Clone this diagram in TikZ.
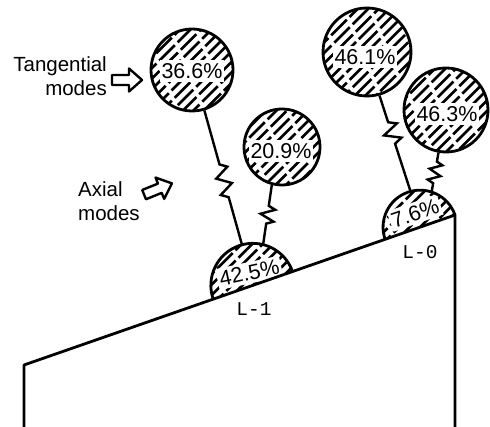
\documentclass[tikz,border=0pt]{standalone}
\usepackage{fontspec}
\setmainfont{Liberation Sans}
\newfontfamily\labmono{Liberation Mono}
\usetikzlibrary{calc,decorations.pathmorphing}
\begin{document}
\begin{tikzpicture}[x=1pt,y=1pt,
  outline/.style={line width=2.8pt, line join=round},
  hatchline/.style={line width=2.6pt, dash pattern=on 22pt off 4pt},
  bubble/.style={circle, draw, line width=2.8pt, inner sep=0pt,
    path picture={\foreach \k in {-84,-73.5,...,84}
      \draw[hatchline, dash phase={\k+100}] ([shift={(\k-60,-60)}]path picture bounding box.center) -- ++(120,120);}},
  pct/.style={fill=white, inner xsep=2pt, inner ysep=3pt, font=\fontsize{21.5}{21.5}\selectfont},
  modetext/.style={inner sep=0pt, font=\fontsize{20.5}{24}\selectfont},
  lab/.style={font=\labmono\fontsize{19.5}{19.5}\selectfont},
  spring/.style={line width=2.4pt, line join=miter, decorate,
    decoration={zigzag, amplitude=7pt, segment length=17pt}},
  barrow/.style={line width=2.4pt, line join=round}
]
\useasboundingbox (0,0) rectangle (490,427);

% base block
\coordinate (A) at (24,62);
\coordinate (B) at (455,212);
\coordinate (Abot) at (24,0);
\coordinate (Bbot) at (455,0);
\coordinate (h1) at ($(A)!0.531!(B)$);
\coordinate (h2) at ($(B)+(199.19:37)$);

% hatching of half circles
\begin{scope}
  \clip ($(h1)+(19.19:42)$) arc[start angle=19.19, end angle=199.19, radius=42] -- cycle;
  \foreach \k in {-84,-73.5,...,84} \draw[hatchline, dash phase={\k+100}] ($(h1)+(\k-60,-60)$) -- ++(120,120);
\end{scope}
\begin{scope}
  \clip ($(h2)+(19.19:37)$) arc[start angle=19.19, end angle=199.19, radius=37] -- cycle;
  \foreach \k in {-84,-73.5,...,84} \draw[hatchline, dash phase={\k+100}] ($(h2)+(\k-60,-60)$) -- ++(120,120);
\end{scope}

\node[pct, rotate=12] (t5) at ($(h1)+(106:13)$) {42.5\%};
\node[pct, rotate=19.19] (t6) at ($(h2)+(109.19:15)$) {7.6\%};

\draw[outline] ($(h1)+(19.19:42)$) arc[start angle=19.19, end angle=199.19, radius=42];
\draw[outline] ($(h2)+(19.19:37)$) arc[start angle=19.19, end angle=199.19, radius=37];
\draw[outline] (Abot) -- (A) -- (B) -- (Bbot);

\coordinate (h1a) at ($(h1)+(105:43)$);
\coordinate (h1b) at ($(h1)+(76:43)$);
\coordinate (h2a) at ($(h2)+(105:38)$);
\coordinate (h2b) at ($(h2)+(72:38)$);

% full circles
\node[bubble, minimum size=82pt] (c1) at (192,357) {};
\node[bubble, minimum size=76pt] (c2) at (282,280) {};
\node[bubble, minimum size=88pt] (c3) at (367,375) {};
\node[bubble, minimum size=84pt] (c4) at (446,317) {};

\node[pct] (t1) at ($(c1)+(0,-1)$) {36.6\%};
\node[pct] (t2) at ($(c2)+(-1,-4)$) {20.9\%};
\node[pct] (t3) at ($(c3)+(-2,-5)$) {46.1\%};
\node[pct] (t4) at ($(c4)+(1,-4)$) {46.3\%};

% springs
\draw[spring, decoration={pre length=56pt, post length=46pt}] (c1.-73) -- (h1a);
\draw[spring, decoration={amplitude=7pt, segment length=12pt, pre length=21pt, post length=17pt}] (c2.-105) -- (h1b);
\draw[spring, decoration={amplitude=8pt, segment length=15pt, pre length=28pt, post length=44pt}] (c3.-74) -- (h2a);
\draw[spring, decoration={amplitude=6pt, segment length=11pt, pre length=9pt, post length=7pt}] (c4.-100) -- (h2b);

% labels
\node[lab] (l1) at (254,118) {L-1};
\node[lab] (l0) at (420,175) {L-0};

\node[modetext, anchor=north east, align=right] (tang) at (107,371) {Tangential\\modes};
\node[modetext, anchor=north west, align=left] (axial) at (78,246) {Axial\\modes};

% block arrows
\draw[barrow, shift={(127,347)}] (-15,-5) -- (2,-5) -- (2,-11.5) -- (15,0) -- (2,11.5) -- (2,5) -- (-15,5) -- cycle;
\draw[barrow, shift={(158,238)}, rotate=22] (-15,-5) -- (2,-5) -- (2,-11.5) -- (15,0) -- (2,11.5) -- (2,5) -- (-15,5) -- cycle;
\end{tikzpicture}
\end{document}
